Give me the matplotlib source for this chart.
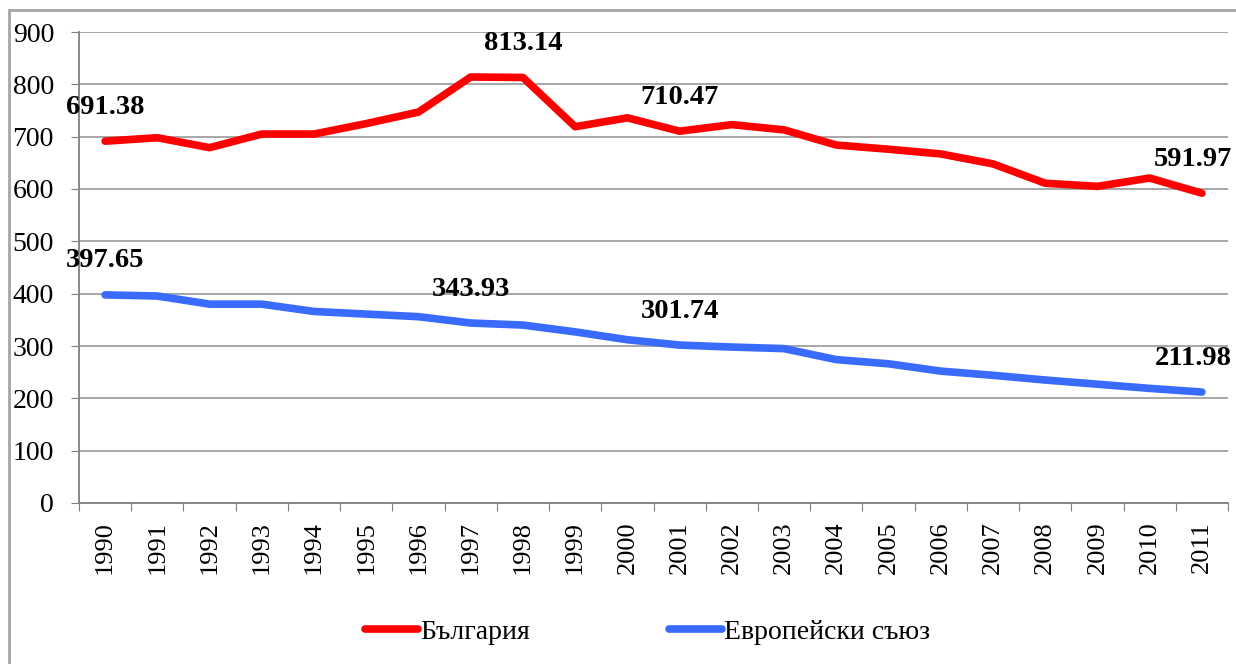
import numpy as np
import matplotlib
matplotlib.use("Agg")
import matplotlib.pyplot as plt
from matplotlib.patches import Rectangle

years = [str(y) for y in range(1990, 2012)]
bulgaria = [691.38, 698, 679, 705, 705, 725, 747, 814, 813.14, 719, 736,
            710.47, 723, 713, 684, 676, 667, 648, 611, 605, 621, 591.97]
eu = [397.65, 395.5, 380, 380, 366, 361, 356, 343.93, 340, 327, 312,
      301.74, 298, 295, 274, 266, 252, 244, 235, 227, 219, 211.98]
# indices of the points that carry a value label
bg_labels = [0, 8, 11, 21]
eu_labels = [0, 7, 11, 21]

plt.rcParams['font.family'] = ['Liberation Serif', 'DejaVu Serif']

fig = plt.figure(figsize=(12.36, 6.64), dpi=100)
ax = fig.add_axes([79 / 1236, 1 - 503 / 664, (1228 - 79) / 1236, (503 - 32) / 664])

x = np.arange(len(years))
red = "#FF0000"
blue = "#3A6BFF"
ax.plot(x, bulgaria, color=red, lw=5.5, solid_capstyle='round',
        solid_joinstyle='round', label="България", zorder=3)
ax.plot(x, eu, color=blue, lw=5.5, solid_capstyle='round',
        solid_joinstyle='round', label="Европейски съюз", zorder=3)


def label_points(values, idx):
    for i in idx:
        dx = -9 if i == len(values) - 1 else 0
        ax.annotate(f"{values[i]:.2f}", (x[i], values[i]), xytext=(dx, 34),
                    textcoords='offset pixels', ha='center', va='center',
                    fontsize=20.5, fontweight='bold', zorder=4,
                    annotation_clip=False)


label_points(bulgaria, bg_labels)
label_points(eu, eu_labels)

ax.set_xlim(-0.5, len(years) - 0.5)
ax.set_ylim(0, 900)
ax.set_yticks(range(0, 901, 100))
ax.tick_params(axis='y', labelsize=20, length=6, color='#808080', pad=12)
ax.set_xticks(np.arange(-0.5, len(years), 1))
ax.set_xticklabels([])
ax.set_xticks(x, minor=True)
ax.set_xticklabels(years, minor=True, rotation=90, fontsize=19)
ax.tick_params(axis='x', which='major', length=6, color='#808080')
ax.tick_params(axis='x', which='minor', length=0, pad=13)
ax.grid(axis='y', color='#A0A0A0', lw=1.3)
ax.set_axisbelow(True)
for s in ['top', 'right']:
    ax.spines[s].set_visible(False)
for s in ['left', 'bottom']:
    ax.spines[s].set_color('#808080')
    ax.spines[s].set_linewidth(1.3)

fig.legend(loc='center left', bbox_to_anchor=(340 / 1236, 1 - 632 / 664),
           ncol=2, frameon=False, fontsize=20, handlelength=1.9,
           handletextpad=0.08, columnspacing=5.0)

# outer chart frame
fig.patches.append(Rectangle((9 / 1236, -0.1), 1.2, 1.1 - 10 / 664,
                             transform=fig.transFigure, fill=False,
                             edgecolor='#A6A6A6', lw=2))

fig.savefig("out.png", dpi=100)
